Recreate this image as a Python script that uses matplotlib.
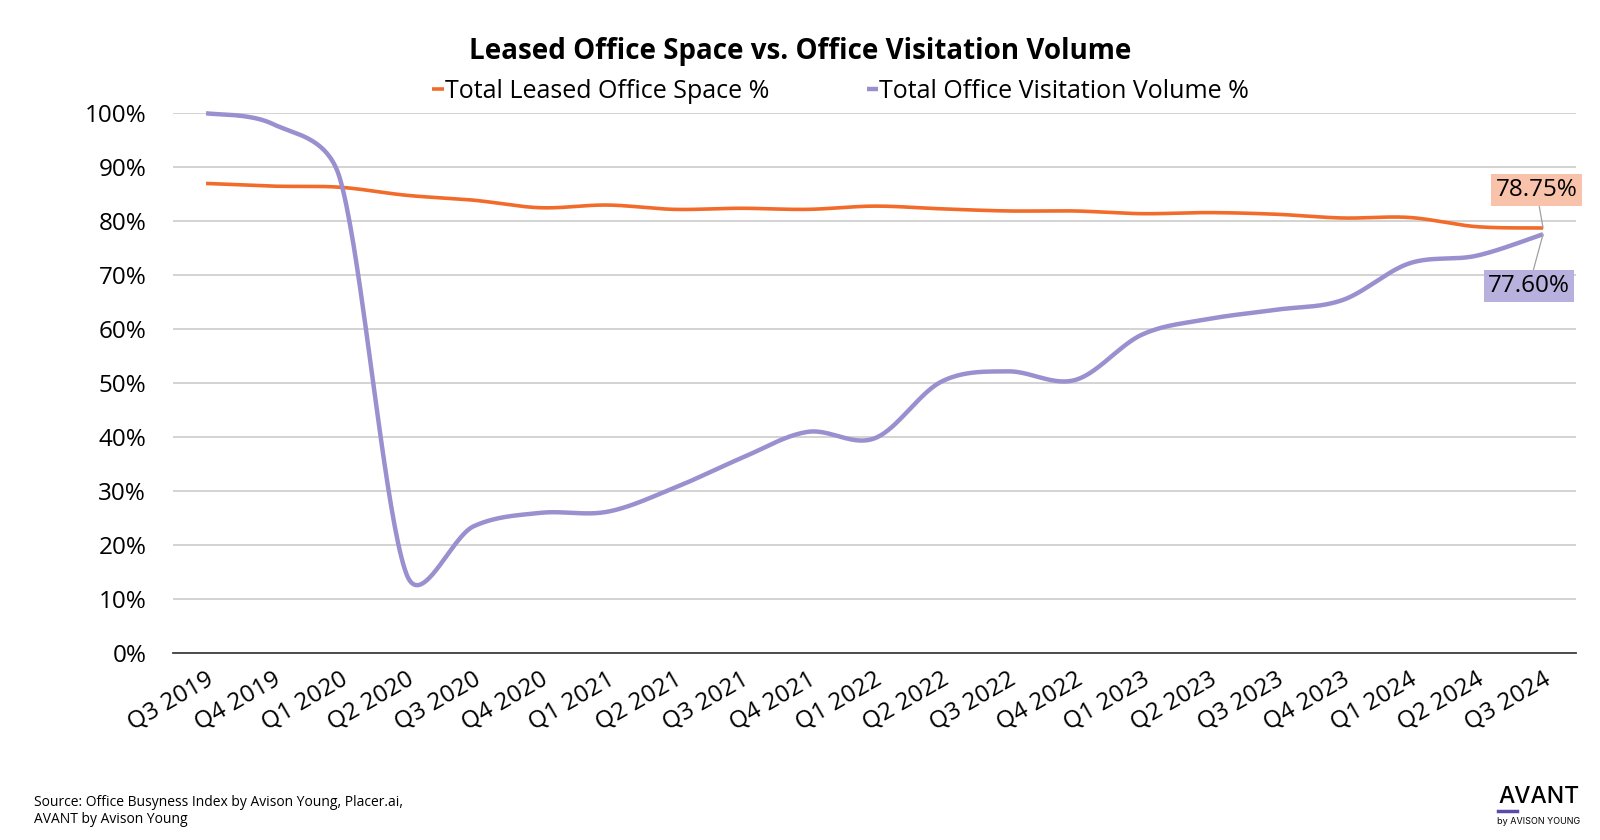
import numpy as np
import matplotlib.pyplot as plt
from matplotlib.ticker import PercentFormatter

plt.rcParams['font.family'] = ['Open Sans', 'DejaVu Sans']

quarters = ['Q3 2019', 'Q4 2019', 'Q1 2020', 'Q2 2020', 'Q3 2020', 'Q4 2020',
            'Q1 2021', 'Q2 2021', 'Q3 2021', 'Q4 2021', 'Q1 2022', 'Q2 2022',
            'Q3 2022', 'Q4 2022', 'Q1 2023', 'Q2 2023', 'Q3 2023', 'Q4 2023',
            'Q1 2024', 'Q2 2024', 'Q3 2024']

# values in percent
leased = [87.0, 86.5, 86.3, 84.8, 83.9, 82.5, 83.0, 82.2, 82.4, 82.2, 82.8,
          82.3, 81.9, 81.9, 81.4, 81.6, 81.3, 80.6, 80.7, 79.0, 78.75]
visits = [100.0, 98.0, 88.0, 14.6, 23.5, 26.0, 26.2, 30.6, 36.1, 41.0, 39.8,
          50.3, 52.2, 50.6, 59.0, 61.9, 63.6, 65.4, 72.2, 73.6, 77.6]

ORANGE = '#F26B2A'
PURPLE = '#9A90CF'

# pixel size of one category step and of one percent, for the smoothing
XPX, YPX = 66.85, 5.4


def smooth(vals, n=40):
    # excel-like smoothed line: bezier segments, arms clamped to half a segment
    x = np.arange(len(vals), dtype=float) * XPX
    y = np.asarray(vals, dtype=float) * YPX
    px = np.concatenate([[x[0]], x, [x[-1]]])
    py = np.concatenate([[y[0]], y, [y[-1]]])
    t = np.linspace(0, 1, n)[:, None]
    out = []
    for i in range(len(x) - 1):
        p0 = np.array([px[i], py[i]])
        p1 = np.array([px[i + 1], py[i + 1]])
        p2 = np.array([px[i + 2], py[i + 2]])
        p3 = np.array([px[i + 3], py[i + 3]])
        d12 = np.linalg.norm(p2 - p1)
        d02 = np.linalg.norm(p2 - p0)
        d13 = np.linalg.norm(p3 - p1)
        f1 = 1 / 6
        if d02 / 6 > d12 / 2:
            f1 = d12 / (2 * d02)
        f2 = 1 / 6
        if d13 / 6 > d12 / 2:
            f2 = d12 / (2 * d13)
        b1 = p1 + (p2 - p0) * f1
        b2 = p2 - (p3 - p1) * f2
        seg = ((1 - t) ** 3 * p1 + 3 * (1 - t) ** 2 * t * b1
               + 3 * (1 - t) * t ** 2 * b2 + t ** 3 * p2)
        out.append(seg)
    pts = np.vstack(out)
    return pts[:, 0] / XPX, pts[:, 1] / YPX


fig = plt.figure(figsize=(16, 8.4), dpi=100)
ax = fig.add_axes([0.1079, 0.2223, 0.8774, 0.6429])

lx, ly = smooth(leased)
vx, vy = smooth(visits)
l1, = ax.plot(lx, ly, color=ORANGE, lw=2.6, label='Total Leased Office Space %',
              solid_capstyle='butt', zorder=3, clip_on=False)
l2, = ax.plot(vx, vy, color=PURPLE, lw=3.2, label='Total Office Visitation Volume %',
              solid_capstyle='butt', zorder=3, clip_on=False)

ax.set_xlim(-0.5, len(quarters) - 0.5)
ax.set_ylim(0, 100)
ax.set_yticks(np.arange(0, 101, 10))
ax.yaxis.set_major_formatter(PercentFormatter(decimals=0))
ax.set_xticks(range(len(quarters)))
ax.set_xticklabels(quarters, rotation=30, ha='right', rotation_mode='anchor')
ax.tick_params(axis='both', length=0, labelsize=17.5, colors='black')
ax.tick_params(axis='x', pad=10)
ax.tick_params(axis='y', pad=19)
ax.grid(axis='y', color='#C8C8C8', lw=1.1)
ax.set_axisbelow(True)
for s in ['top', 'right', 'left']:
    ax.spines[s].set_visible(False)
ax.spines['bottom'].set_color('#404040')
ax.spines['bottom'].set_linewidth(1.3)
ax.spines['bottom'].set_zorder(2)

# end labels
last = len(quarters) - 1
ax.annotate(f'{leased[-1]:.2f}%', xy=(last, leased[-1]), xytext=(last - 0.1, 85.8),
            ha='center', va='center', fontsize=17.5,
            bbox=dict(boxstyle='square,pad=0.18', fc='#F9C2AA', ec='none'),
            arrowprops=dict(arrowstyle='-', color='#A0A0A0', lw=0.9, shrinkA=0, shrinkB=0))
ax.annotate(f'{visits[-1]:.2f}%', xy=(last, visits[-1]), xytext=(last - 0.21, 68.0),
            ha='center', va='center', fontsize=17.5,
            bbox=dict(boxstyle='square,pad=0.18', fc='#B9B1DD', ec='none'),
            arrowprops=dict(arrowstyle='-', color='#A0A0A0', lw=0.9, shrinkA=0, shrinkB=0))

fig.text(0.5, 1 - 51 / 840, 'Leased Office Space vs. Office Visitation Volume',
         ha='center', va='center', fontsize=20, fontweight='bold')

fig.legend(handles=[l1, l2], loc='center', bbox_to_anchor=(0.5255, 1 - 91 / 840),
           ncol=2, frameon=False, handlelength=0.45, handletextpad=0.05,
           columnspacing=3.9, prop={'size': 18})

fig.text(34 / 1600, 1 - 811 / 840,
         'Source: Office Busyness Index by Avison Young, Placer.ai,\nAVANT by Avison Young',
         ha='left', va='center', fontsize=10, linespacing=1.25)

# logo
fig.text(1580 / 1600, 1 - 797 / 840, 'AVANT', ha='right', va='center',
         fontsize=16.5, fontweight='medium', family=['Inter', 'Open Sans'])
fig.add_artist(plt.Line2D([1498 / 1600, 1517 / 1600], [1 - 811 / 840, 1 - 811 / 840],
                          color='#5B4BA6', lw=2.5))
fig.text(1580 / 1600, 1 - 821 / 840, 'by AVISON YOUNG', ha='right', va='center',
         fontsize=6.5, family=['Inter', 'Open Sans'])

fig.savefig('out.png', dpi=100, facecolor='white')
